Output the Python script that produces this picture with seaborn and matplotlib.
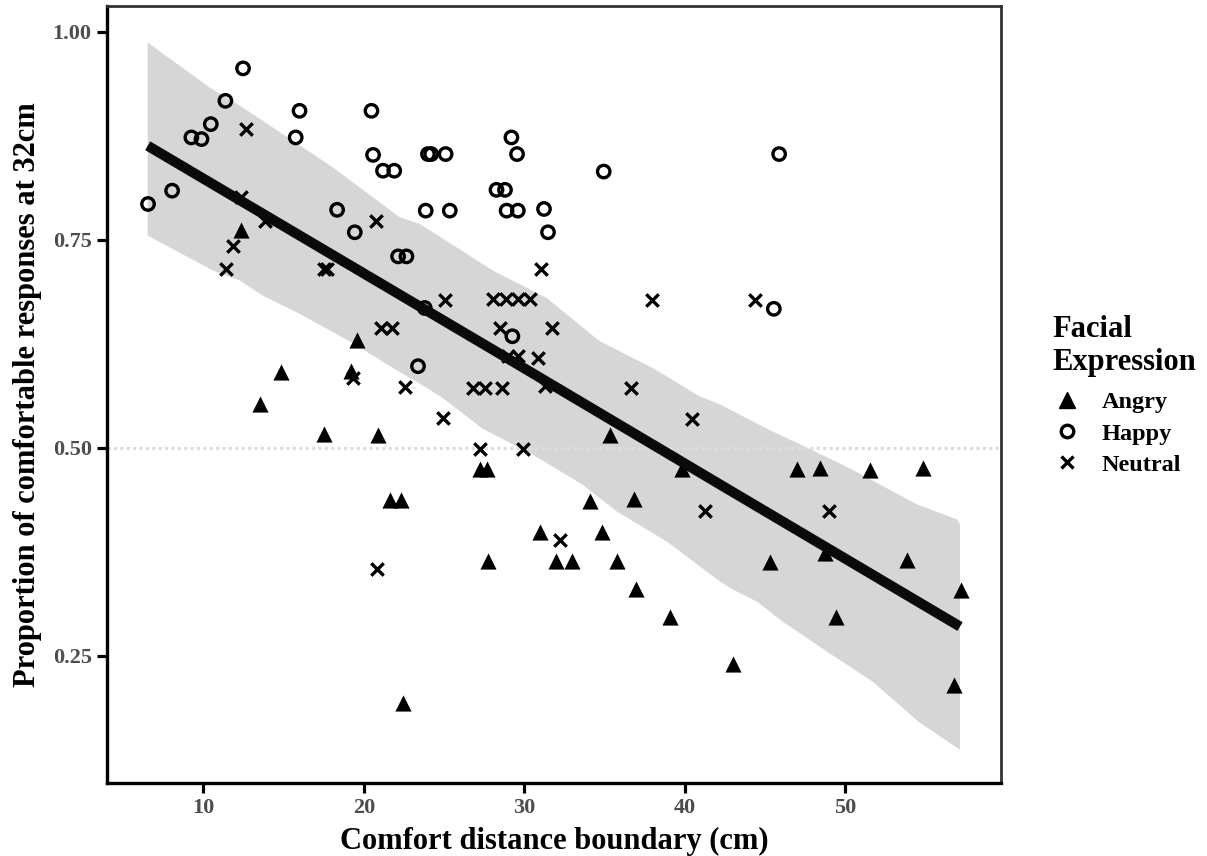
import numpy as np
import pandas as pd
import matplotlib
matplotlib.use("Agg")
import matplotlib.pyplot as plt
from matplotlib.lines import Line2D
import seaborn as sns

# ---------------- data ----------------
angry_x = [12.38, 13.56, 14.83, 17.53, 19.23, 19.55, 20.89, 21.62, 22.35, 22.45,
           27.23, 27.68, 27.75, 30.97, 31.96, 33.0, 34.12, 34.87, 35.33, 35.78,
           36.84, 36.95, 39.07, 39.8, 43.0, 45.3, 47.0, 48.4, 48.72, 49.41,
           51.53, 53.85, 54.85, 56.76, 57.2]
angry_y = [0.762, 0.553, 0.591, 0.516, 0.592, 0.630, 0.515, 0.437, 0.437, 0.193,
           0.474, 0.474, 0.364, 0.399, 0.364, 0.364, 0.436, 0.399, 0.515, 0.364,
           0.438, 0.330, 0.297, 0.474, 0.240, 0.363, 0.475, 0.476, 0.373, 0.297,
           0.473, 0.365, 0.476, 0.215, 0.329]

happy_x = [6.56, 8.06, 9.26, 9.89, 10.47, 11.38, 12.48, 15.76, 16.0, 18.34,
           19.44, 20.48, 20.58, 21.2, 21.9, 22.14, 22.66, 23.38, 23.8, 23.86,
           24.0, 24.2, 25.1, 25.36, 28.27, 28.8, 28.9, 29.2, 29.26, 29.55,
           29.6, 31.23, 31.48, 34.95, 45.55, 45.88]
happy_y = [0.793, 0.809, 0.873, 0.871, 0.889, 0.917, 0.956, 0.873, 0.905, 0.786,
           0.759, 0.905, 0.852, 0.833, 0.833, 0.730, 0.730, 0.598, 0.668, 0.785,
           0.853, 0.853, 0.853, 0.785, 0.810, 0.810, 0.785, 0.873, 0.634, 0.853,
           0.785, 0.787, 0.759, 0.832, 0.667, 0.853]

neutral_x = [11.4, 11.86, 12.38, 12.69, 13.83, 17.5, 17.7, 19.33, 20.79, 20.83,
             21.1, 21.73, 22.6, 24.94, 25.05, 26.81, 27.23, 27.54, 28.05, 28.47,
             28.64, 28.88, 28.97, 29.6, 29.6, 29.93, 30.35, 30.86, 31.07, 31.28,
             31.7, 32.2, 36.68, 37.93, 40.48, 41.25, 44.36, 49.0]
neutral_y = [0.715, 0.743, 0.801, 0.883, 0.773, 0.715, 0.715, 0.584, 0.773, 0.354,
             0.644, 0.644, 0.573, 0.536, 0.677, 0.572, 0.498, 0.572, 0.679, 0.644,
             0.572, 0.679, 0.610, 0.679, 0.610, 0.498, 0.679, 0.608, 0.715, 0.574,
             0.644, 0.389, 0.572, 0.677, 0.534, 0.424, 0.677, 0.424]

# fitted line
fit_x = [6.54, 28.47, 42.18, 57.15]
fit_y = [0.863, 0.613, 0.456, 0.285]

# confidence ribbon edges
upper_x = [6.54, 10.4, 12.46, 18.07, 22.24, 23.5, 28.04, 31.4, 34.7, 38.0,
           40.9, 42.2, 45.1, 47.2, 50.3, 54.45, 56.95, 57.15]
upper_y = [0.987, 0.933, 0.909, 0.837, 0.777, 0.769, 0.713, 0.680, 0.628, 0.596,
           0.562, 0.552, 0.523, 0.504, 0.475, 0.432, 0.414, 0.408]
lower_x = [6.54, 10.6, 12.27, 13.7, 16.0, 19.3, 21.8, 23.5, 24.9, 27.4,
           30.5, 33.6, 35.76, 38.9, 42.2, 43.0, 44.5, 46.1, 48.85, 51.7,
           54.6, 57.15]
lower_y = [0.755, 0.713, 0.701, 0.683, 0.661, 0.626, 0.596, 0.577, 0.560, 0.523,
           0.492, 0.456, 0.4235, 0.387, 0.339, 0.3295, 0.315, 0.291, 0.255, 0.219,
           0.170, 0.137]

y_ticks = [0.25, 0.50, 0.75, 1.00]
y_ticklabels = ["0.25", "0.50", "0.75", "1.00"]
x_ticks = [10, 20, 30, 40, 50]
categories = ["Angry", "Happy", "Neutral"]

# ---------------- style ----------------
sns.set_theme(style="white")
plt.rcParams["font.family"] = ["Liberation Serif", "DejaVu Serif"]
plt.rcParams["font.weight"] = "bold"
plt.rcParams["axes.labelweight"] = "bold"
plt.rcParams["text.color"] = "black"
plt.rcParams["axes.labelcolor"] = "black"

fig, ax = plt.subplots(figsize=(12.07, 8.56), dpi=100)
fig.subplots_adjust(left=0.0886, right=0.8293, top=0.993, bottom=0.0853)

# ribbon
rx = np.concatenate([upper_x, lower_x[::-1]])
ry = np.concatenate([upper_y, lower_y[::-1]])
ax.fill(rx, ry, color="#d6d6d6", lw=0, zorder=1)

# reference line at 0.5
ax.axhline(0.5, color="#dedede", ls=(0, (1, 1)), lw=2.3, zorder=1.5)

df_a = pd.DataFrame({"x": angry_x, "y": angry_y})
df_h = pd.DataFrame({"x": happy_x, "y": happy_y})
df_n = pd.DataFrame({"x": neutral_x, "y": neutral_y})

sns.scatterplot(data=df_a, x="x", y="y", marker="^", s=135, color="black",
                edgecolor="black", linewidth=0, ax=ax, zorder=2, legend=False)
sns.scatterplot(data=df_h, x="x", y="y", marker="o", s=80, facecolor="none",
                edgecolor="black", linewidth=2.4, ax=ax, zorder=2, legend=False)
sns.scatterplot(data=df_n, x="x", y="y", marker="x", s=80, color="black",
                linewidth=2.4, ax=ax, zorder=2, legend=False)

# fitted line
sns.lineplot(x=fit_x, y=fit_y, color="#0a0a0a", lw=7.3, ax=ax, zorder=3,
             solid_capstyle="butt")

ax.set_xlim(4.0, 59.7)
ax.set_ylim(0.097, 1.031)
ax.set_xticks(x_ticks)
ax.set_yticks(y_ticks)
ax.set_yticklabels(y_ticklabels)
ax.tick_params(axis="both", length=7, width=2.3, color="black", direction="out",
               labelsize=16, labelcolor="#4d4d4d", pad=4, bottom=True, left=True)
for lab in ax.get_xticklabels() + ax.get_yticklabels():
    lab.set_fontweight("bold")

ax.set_xlabel("Comfort distance boundary (cm)", fontsize=22, fontweight="bold",
              color="black", labelpad=6)
ax.set_ylabel("Proportion of comfortable responses at 32cm", fontsize=22,
              fontweight="bold", color="black", labelpad=8)

for side in ["left", "bottom"]:
    ax.spines[side].set_color("black")
    ax.spines[side].set_linewidth(2.4)
for side in ["top", "right"]:
    ax.spines[side].set_color("#333333")
    ax.spines[side].set_linewidth(2.0)

handles = [
    Line2D([], [], marker="^", color="black", ls="none", markersize=11),
    Line2D([], [], marker="o", markerfacecolor="none", markeredgecolor="black",
           markeredgewidth=2.4, ls="none", markersize=9),
    Line2D([], [], marker="x", color="black", markeredgewidth=2.4, ls="none",
           markersize=9),
]
leg = ax.legend(handles, categories, title="Facial\nExpression",
                loc="upper left", bbox_to_anchor=(1052 / 1207, 1 - 315 / 856),
                bbox_transform=fig.transFigure, frameon=False,
                prop={"size": 17.5, "weight": "bold"},
                title_fontproperties={"size": 22, "weight": "bold"},
                alignment="left", handlelength=1.2, handletextpad=0.85,
                labelspacing=0.38, borderpad=0, borderaxespad=0)
leg.get_title().set_color("black")
for t in leg.get_texts():
    t.set_color("black")
leg._legend_box.sep = 10

fig.savefig("out.png", dpi=100)
